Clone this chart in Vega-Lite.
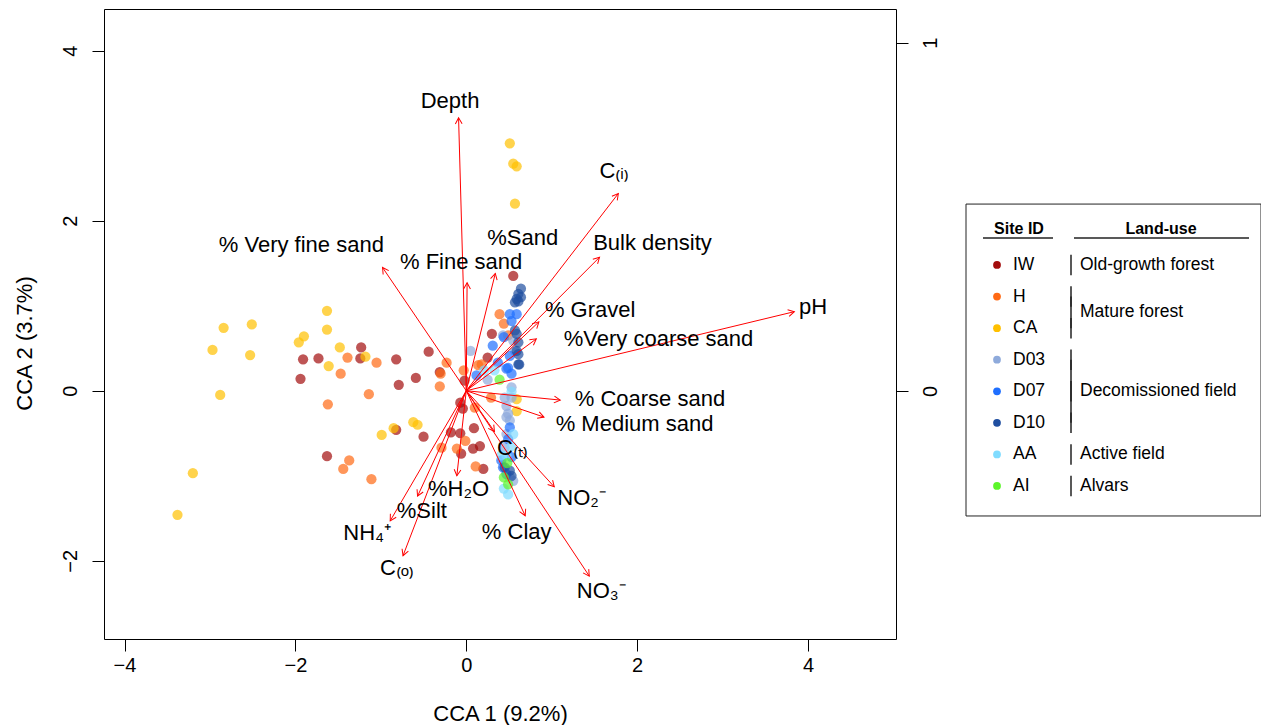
{
  "$schema": "https://vega.github.io/schema/vega-lite/v6.json",
  "background": "white",
  "padding": {"left": 12, "top": 8, "right": 0, "bottom": 0},
  "config": {
    "font": "Liberation Sans",
    "view": {"stroke": "#000", "strokeWidth": 1},
    "axis": {"grid": false, "domain": false, "tickColor": "#000", "tickSize": 12, "tickWidth": 1, "labelColor": "#000", "titleColor": "#000", "labelFont": "Liberation Sans", "titleFont": "Liberation Sans", "titleFontWeight": "normal", "labelFontSize": 20, "titleFontSize": 22, "format": "~g"}
  },
  "datasets": {
    "points": [
      {"site": "IW", "x": -1.23, "y": 0.51}, {"site": "IW", "x": -1.91, "y": 0.37}, {"site": "IW", "x": -1.73, "y": 0.38}, {"site": "IW", "x": -1.24, "y": 0.38},
      {"site": "IW", "x": -1.94, "y": 0.14}, {"site": "IW", "x": -0.82, "y": 0.37}, {"site": "IW", "x": -0.44, "y": 0.46}, {"site": "IW", "x": -0.79, "y": 0.07},
      {"site": "IW", "x": -0.59, "y": 0.15}, {"site": "IW", "x": -0.82, "y": -0.46}, {"site": "IW", "x": -0.5, "y": -0.54}, {"site": "IW", "x": -1.63, "y": -0.77},
      {"site": "IW", "x": -0.31, "y": 0.22}, {"site": "IW", "x": -0.02, "y": 0.12}, {"site": "IW", "x": -0.07, "y": -0.14}, {"site": "IW", "x": -0.04, "y": -0.21},
      {"site": "IW", "x": 0.09, "y": -0.44}, {"site": "IW", "x": -0.18, "y": -0.49}, {"site": "IW", "x": -0.07, "y": -0.5}, {"site": "IW", "x": 0.08, "y": -0.68},
      {"site": "IW", "x": 0.16, "y": -0.65}, {"site": "IW", "x": -0.06, "y": -0.74}, {"site": "IW", "x": 0.2, "y": -0.92}, {"site": "IW", "x": 0.3, "y": 0.67},
      {"site": "IW", "x": 0.55, "y": 1.35}, {"site": "IW", "x": 0.25, "y": 0.39},
      {"site": "H", "x": -1.39, "y": 0.39}, {"site": "H", "x": -1.05, "y": 0.33}, {"site": "H", "x": -1.47, "y": 0.2}, {"site": "H", "x": -1.14, "y": -0.04},
      {"site": "H", "x": -1.62, "y": -0.16}, {"site": "H", "x": -1.37, "y": -0.82}, {"site": "H", "x": -1.44, "y": -0.92}, {"site": "H", "x": -1.11, "y": -1.04},
      {"site": "H", "x": -0.23, "y": 0.33}, {"site": "H", "x": -0.3, "y": 0.2}, {"site": "H", "x": -0.31, "y": 0.05}, {"site": "H", "x": -0.03, "y": 0.24},
      {"site": "H", "x": 0.14, "y": 0.3}, {"site": "H", "x": -0.29, "y": -0.67}, {"site": "H", "x": -0.11, "y": -0.68}, {"site": "H", "x": -0.01, "y": -0.59},
      {"site": "H", "x": 0.11, "y": -0.89}, {"site": "H", "x": 0.1, "y": -0.2}, {"site": "H", "x": 0.29, "y": -0.08}, {"site": "H", "x": 0.39, "y": 0.9},
      {"site": "H", "x": 0.44, "y": 0.79}, {"site": "H", "x": 0.49, "y": 0.65}, {"site": "H", "x": 0.18, "y": 0.31},
      {"site": "CA", "x": -1.63, "y": 0.94}, {"site": "CA", "x": -1.63, "y": 0.72}, {"site": "CA", "x": -2.84, "y": 0.74}, {"site": "CA", "x": -2.51, "y": 0.78},
      {"site": "CA", "x": -2.97, "y": 0.48}, {"site": "CA", "x": -2.53, "y": 0.42}, {"site": "CA", "x": -1.9, "y": 0.64}, {"site": "CA", "x": -1.96, "y": 0.57},
      {"site": "CA", "x": -1.48, "y": 0.51}, {"site": "CA", "x": -1.18, "y": 0.4}, {"site": "CA", "x": -1.61, "y": 0.29}, {"site": "CA", "x": -2.88, "y": -0.05},
      {"site": "CA", "x": -3.2, "y": -0.97}, {"site": "CA", "x": -3.38, "y": -1.46}, {"site": "CA", "x": -0.99, "y": -0.52}, {"site": "CA", "x": -0.85, "y": -0.44},
      {"site": "CA", "x": -0.62, "y": -0.37}, {"site": "CA", "x": -0.57, "y": -0.4}, {"site": "CA", "x": 0.51, "y": 2.91}, {"site": "CA", "x": 0.55, "y": 2.67},
      {"site": "CA", "x": 0.59, "y": 2.64}, {"site": "CA", "x": 0.57, "y": 2.2}, {"site": "CA", "x": 0.59, "y": -0.1}, {"site": "CA", "x": 0.59, "y": -0.24},
      {"site": "D03", "x": 0.05, "y": 0.47}, {"site": "D03", "x": 0.25, "y": 0.13}, {"site": "D03", "x": 0.43, "y": 0.65}, {"site": "D03", "x": 0.55, "y": 0.59},
      {"site": "D03", "x": 0.57, "y": 0.47}, {"site": "D03", "x": 0.53, "y": 0.04}, {"site": "D03", "x": 0.45, "y": -0.08}, {"site": "D03", "x": 0.47, "y": -0.18},
      {"site": "D03", "x": 0.49, "y": -0.27}, {"site": "D03", "x": 0.47, "y": -0.31}, {"site": "D03", "x": 0.47, "y": -0.51}, {"site": "D03", "x": 0.45, "y": -0.67},
      {"site": "D03", "x": 0.51, "y": -1.02}, {"site": "D03", "x": 0.55, "y": -1.06}, {"site": "D03", "x": 0.53, "y": -0.08}, {"site": "D03", "x": 0.51, "y": -0.35},
      {"site": "D07", "x": 0.31, "y": 0.53}, {"site": "D07", "x": 0.37, "y": 0.33}, {"site": "D07", "x": 0.47, "y": 0.26}, {"site": "D07", "x": 0.53, "y": 0.2},
      {"site": "D07", "x": 0.12, "y": 0.18}, {"site": "D07", "x": 0.59, "y": 0.9}, {"site": "D07", "x": 0.51, "y": 0.9}, {"site": "D07", "x": 0.53, "y": 0.82},
      {"site": "D07", "x": 0.51, "y": 0.41}, {"site": "D07", "x": 0.49, "y": 0.27}, {"site": "D07", "x": 0.51, "y": -0.43}, {"site": "D07", "x": 0.49, "y": -0.57},
      {"site": "D07", "x": 0.53, "y": -0.78}, {"site": "D07", "x": 0.41, "y": -0.82}, {"site": "D07", "x": 0.43, "y": -0.9}, {"site": "D07", "x": 0.47, "y": -0.98},
      {"site": "D07", "x": 0.44, "y": 0.63},
      {"site": "D10", "x": 0.64, "y": 1.2}, {"site": "D10", "x": 0.61, "y": 1.14}, {"site": "D10", "x": 0.59, "y": 1.08}, {"site": "D10", "x": 0.64, "y": 1.1},
      {"site": "D10", "x": 0.57, "y": 1.04}, {"site": "D10", "x": 0.61, "y": 1.05}, {"site": "D10", "x": 0.57, "y": 0.71}, {"site": "D10", "x": 0.61, "y": 0.57},
      {"site": "D10", "x": 0.59, "y": 0.47}, {"site": "D10", "x": 0.61, "y": 0.31}, {"site": "D10", "x": 0.59, "y": 0.67}, {"site": "D10", "x": 0.62, "y": 0.31},
      {"site": "D10", "x": 0.45, "y": -0.9}, {"site": "D10", "x": 0.51, "y": -0.94}, {"site": "D10", "x": 0.53, "y": -1.0}, {"site": "D10", "x": 0.61, "y": 0.43},
      {"site": "AA", "x": 0.21, "y": 0.24}, {"site": "AA", "x": 0.33, "y": 0.24}, {"site": "AA", "x": 0.55, "y": -0.51}, {"site": "AA", "x": 0.53, "y": -0.65},
      {"site": "AA", "x": 0.49, "y": -1.22}, {"site": "AA", "x": 0.53, "y": -0.01}, {"site": "AA", "x": 0.47, "y": -0.76}, {"site": "AA", "x": 0.41, "y": -0.76},
      {"site": "AA", "x": 0.44, "y": -1.15},
      {"site": "AI", "x": 0.39, "y": 0.13}, {"site": "AI", "x": 0.44, "y": -1.02}, {"site": "AI", "x": 0.48, "y": -0.85}, {"site": "AI", "x": 0.49, "y": -1.1}
    ],
    "arrows": [
      {"label": "Depth", "x": -0.09, "y": 3.21, "lx": -0.19, "ly": 3.41},
      {"label": "% Very fine sand", "x": -0.98, "y": 1.45, "lx": -1.93, "ly": 1.72},
      {"label": "% Fine sand", "x": 0.01, "y": 1.27, "lx": -0.06, "ly": 1.51},
      {"label": "%Sand", "x": 0.34, "y": 1.38, "lx": 0.66, "ly": 1.8},
      {"label": "C₍ᵢ₎", "x": 1.78, "y": 2.32, "lx": 1.73, "ly": 2.59},
      {"label": "Bulk density", "x": 1.56, "y": 1.57, "lx": 2.18, "ly": 1.74},
      {"label": "% Gravel", "x": 0.85, "y": 0.81, "lx": 1.45, "ly": 0.95},
      {"label": "%Very coarse sand", "x": 0.82, "y": 0.61, "lx": 2.25, "ly": 0.61},
      {"label": "pH", "x": 3.84, "y": 0.93, "lx": 4.06, "ly": 0.99},
      {"label": "% Coarse sand", "x": 1.1, "y": -0.11, "lx": 2.15, "ly": -0.1},
      {"label": "% Medium sand", "x": 0.91, "y": -0.31, "lx": 1.97, "ly": -0.39},
      {"label": "C₍ₜ₎", "x": 0.33, "y": -0.48, "lx": 0.54, "ly": -0.67},
      {"label": "NO₂⁻", "x": 1.03, "y": -1.13, "lx": 1.35, "ly": -1.26},
      {"label": "% Clay", "x": 0.69, "y": -1.47, "lx": 0.59, "ly": -1.66},
      {"label": "NO₃⁻", "x": 1.44, "y": -2.18, "lx": 1.58, "ly": -2.36},
      {"label": "%H₂O", "x": -0.11, "y": -1.0, "lx": -0.09, "ly": -1.15},
      {"label": "%Silt", "x": -0.57, "y": -1.24, "lx": -0.52, "ly": -1.42},
      {"label": "NH₄⁺", "x": -0.89, "y": -1.53, "lx": -1.16, "ly": -1.67},
      {"label": "C₍ₒ₎", "x": -0.74, "y": -1.94, "lx": -0.81, "ly": -2.08}
    ],
    "legend": [
      {"site": "IW", "order": 1, "landuse": "Old-growth forest"},
      {"site": "H", "order": 2, "landuse": "Mature forest"},
      {"site": "CA", "order": 3, "landuse": "Mature forest"},
      {"site": "D03", "order": 4, "landuse": "Decomissioned field"},
      {"site": "D07", "order": 5, "landuse": "Decomissioned field"},
      {"site": "D10", "order": 6, "landuse": "Decomissioned field"},
      {"site": "AA", "order": 7, "landuse": "Active field"},
      {"site": "AI", "order": 8, "landuse": "Alvars"}
    ]
  },
  "bounds": "flush",
  "spacing": 55,
  "hconcat": [
    {
      "width": 792,
      "height": 630,
      "layer": [
        {
          "layer": [
            {
              "data": {"name": "points"},
              "mark": {"type": "circle", "size": 105, "opacity": 0.7},
              "encoding": {
                "x": {"field": "x", "type": "quantitative", "title": "CCA 1 (9.2%)", "scale": {"domain": [-4.24, 5.03], "nice": false, "zero": false}, "axis": {"values": [-4, -2, 0, 2, 4], "format": "~g", "labelPadding": 4, "titleY": 74, "titleBaseline": "middle"}},
                "y": {"field": "y", "type": "quantitative", "title": "CCA 2 (3.7%)", "scale": {"domain": [-2.92, 4.49], "nice": false, "zero": false}, "axis": {"values": [-2, 0, 2, 4], "format": "~g", "labelAngle": -90, "labelAlign": "center", "labelBaseline": "bottom", "labelPadding": 12, "titleX": -80, "titleY": 334, "titleBaseline": "middle"}},
                "color": {"field": "site", "type": "nominal", "scale": {"domain": ["IW", "H", "CA", "D03", "D07", "D10", "AA", "AI"], "range": ["#a30d0d", "#ff6a14", "#ffc000", "#8eaadb", "#1f6fff", "#1f4ea0", "#80dcff", "#5cf52a"]}, "legend": null}
              }
            },
            {
              "data": {"name": "arrows"},
              "mark": {"type": "rule", "color": "#ff0000", "strokeWidth": 1},
              "encoding": {
                "x": {"field": "x", "type": "quantitative", "title": "CCA 1 (9.2%)", "scale": {"domain": [-4.24, 5.03], "nice": false, "zero": false}},
                "y": {"field": "y", "type": "quantitative", "title": "CCA 2 (3.7%)", "scale": {"domain": [-2.92, 4.49], "nice": false, "zero": false}},
                "x2": {"datum": 0},
                "y2": {"datum": 0}
              }
            },
            {
              "data": {"name": "arrows"},
              "transform": [{"calculate": "atan2(datum.x, datum.y) * 180 / PI", "as": "ang"}],
              "mark": {"type": "point", "shape": "M-0.55,1L0,0L0.55,1", "filled": false, "stroke": "#ff0000", "strokeWidth": 1, "size": 150, "opacity": 1},
              "encoding": {
                "x": {"field": "x", "type": "quantitative", "title": "CCA 1 (9.2%)", "scale": {"domain": [-4.24, 5.03], "nice": false, "zero": false}},
                "y": {"field": "y", "type": "quantitative", "title": "CCA 2 (3.7%)", "scale": {"domain": [-2.92, 4.49], "nice": false, "zero": false}},
                "angle": {"field": "ang", "type": "quantitative", "scale": null}
              }
            },
            {
              "data": {"name": "arrows"},
              "mark": {"type": "text", "fontSize": 22, "color": "#000", "align": "center", "baseline": "middle", "font": "Liberation Sans"},
              "encoding": {
                "x": {"field": "lx", "type": "quantitative", "title": "CCA 1 (9.2%)", "scale": {"domain": [-4.24, 5.03], "nice": false, "zero": false}},
                "y": {"field": "ly", "type": "quantitative", "title": "CCA 2 (3.7%)", "scale": {"domain": [-2.92, 4.49], "nice": false, "zero": false}},
                "text": {"field": "label"}
              }
            }
          ]
        },
        {
          "data": {"values": [{}]},
          "mark": {"type": "rule", "opacity": 0},
          "encoding": {
            "y": {"datum": 0, "type": "quantitative", "scale": {"domain": [-0.713, 1.097], "nice": false, "zero": false}, "axis": {"orient": "right", "values": [0, 1], "format": "~g", "title": null, "labelAngle": -90, "labelAlign": "center", "labelBaseline": "top", "labelPadding": 12}}
          }
        }
      ],
      "resolve": {"scale": {"y": "independent"}}
    },
    {
      "width": 311,
      "height": 630,
      "view": {"stroke": null},
      "layer": [
        {
          "data": {"values": [{}]},
          "mark": {"type": "rect", "fill": "white", "stroke": "#222", "strokeWidth": 1},
          "encoding": {
            "x": {"datum": 0, "type": "quantitative", "scale": {"domain": [-15, 296], "nice": false, "zero": false}, "axis": null},
            "x2": {"datum": 295},
            "y": {"datum": -0.93, "type": "quantitative", "scale": {"domain": [-7.109, 12.847], "reverse": true, "nice": false, "zero": false}, "axis": null},
            "y2": {"datum": 8.95}
          }
        },
        {
          "data": {"values": [{}]},
          "mark": {"type": "text", "text": "Site ID", "fontWeight": "bold", "fontSize": 16, "align": "center", "baseline": "middle", "color": "#000"},
          "encoding": {
            "x": {"datum": 53, "type": "quantitative"},
            "y": {"datum": -0.15, "type": "quantitative"}
          }
        },
        {
          "data": {"values": [{}]},
          "mark": {"type": "text", "text": "Land-use", "fontWeight": "bold", "fontSize": 16, "align": "center", "baseline": "middle", "color": "#000"},
          "encoding": {
            "x": {"datum": 195, "type": "quantitative"},
            "y": {"datum": -0.15, "type": "quantitative"}
          }
        },
        {
          "data": {"values": [{}]},
          "mark": {"type": "rule", "color": "#222", "strokeWidth": 1.5},
          "encoding": {
            "x": {"datum": 17, "type": "quantitative"},
            "x2": {"datum": 87},
            "y": {"datum": 0.145, "type": "quantitative"}
          }
        },
        {
          "data": {"values": [{}]},
          "mark": {"type": "rule", "color": "#222", "strokeWidth": 1.5},
          "encoding": {
            "x": {"datum": 108, "type": "quantitative"},
            "x2": {"datum": 283},
            "y": {"datum": 0.145, "type": "quantitative"}
          }
        },
        {
          "data": {"name": "legend"},
          "mark": {"type": "circle", "size": 60, "opacity": 1},
          "encoding": {
            "x": {"datum": 31, "type": "quantitative"},
            "y": {"field": "order", "type": "quantitative"},
            "color": {"field": "site", "type": "nominal", "scale": {"domain": ["IW", "H", "CA", "D03", "D07", "D10", "AA", "AI"], "range": ["#a30d0d", "#ff6a14", "#ffc000", "#8eaadb", "#1f6fff", "#1f4ea0", "#80dcff", "#5cf52a"]}, "legend": null}
          }
        },
        {
          "data": {"name": "legend"},
          "mark": {"type": "text", "fontSize": 17.5, "align": "left", "baseline": "middle", "color": "#000"},
          "encoding": {
            "x": {"datum": 47, "type": "quantitative"},
            "y": {"field": "order", "type": "quantitative"},
            "text": {"field": "site"}
          }
        },
        {
          "data": {"name": "legend"},
          "mark": {"type": "point", "shape": "M0,-1L0,1", "filled": false, "stroke": "#222", "strokeWidth": 1.5, "size": 420, "opacity": 1},
          "encoding": {
            "x": {"datum": 105, "type": "quantitative"},
            "y": {"field": "order", "type": "quantitative"}
          }
        },
        {
          "data": {"name": "legend"},
          "transform": [{"aggregate": [{"op": "min", "field": "order", "as": "lo"}, {"op": "max", "field": "order", "as": "hi"}, {"op": "mean", "field": "order", "as": "mid"}], "groupby": ["landuse"]}],
          "layer": [
            {
              "mark": {"type": "rule", "color": "#222", "strokeWidth": 1.5},
              "encoding": {
                "x": {"datum": 105, "type": "quantitative"},
                "y": {"field": "lo", "type": "quantitative"},
                "y2": {"field": "hi"}
              }
            },
            {
              "mark": {"type": "text", "fontSize": 17.5, "align": "left", "baseline": "middle", "color": "#000"},
              "encoding": {
                "x": {"datum": 114, "type": "quantitative"},
                "y": {"field": "mid", "type": "quantitative"},
                "text": {"field": "landuse"}
              }
            }
          ]
        }
      ]
    }
  ]
}
